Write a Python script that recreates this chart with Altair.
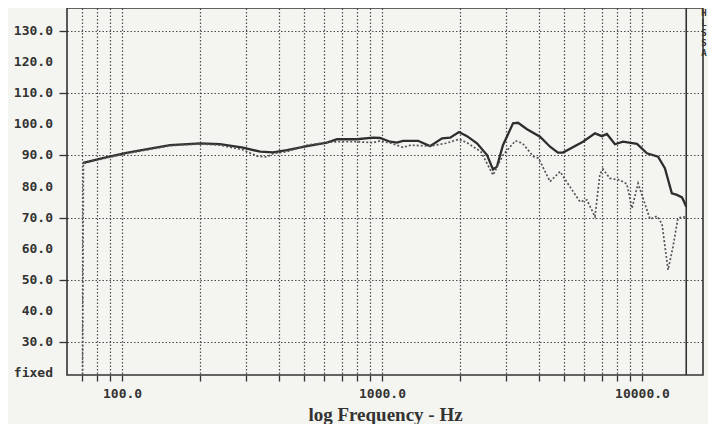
import altair as alt
import pandas as pd

# Solid trace
solid_freq = [70.8, 85, 104, 125, 153, 200, 238, 292, 340, 381, 431, 515, 614, 672, 801, 923, 983,
              1074, 1142, 1204, 1376, 1530, 1702, 1828, 1978, 2123, 2319, 2535, 2673, 2768, 2919,
              3191, 3336, 3613, 4054, 4430, 4752, 4968, 5930, 6595, 7015, 7330, 7870, 8450, 9570,
              10450, 11530, 12250, 13030, 13640, 14260, 14520, 14800]
solid_db = [87.6, 89.2, 90.8, 92.0, 93.3, 93.9, 93.6, 92.5, 91.2, 91.0, 91.7, 93.0, 94.1, 95.2, 95.2,
            95.7, 95.6, 94.4, 94.1, 94.7, 94.7, 93.0, 95.5, 95.7, 97.5, 96.2, 93.9, 90.1, 85.5, 86.4,
            93.3, 100.3, 100.5, 98.4, 96.0, 92.8, 90.9, 90.9, 94.4, 97.1, 96.2, 96.9, 93.6, 94.4,
            93.7, 90.7, 89.6, 85.9, 77.8, 77.3, 76.5, 75.1, 73.5]

# Dotted trace
dot_freq = [70.5, 71, 85, 104, 125, 153, 200, 238, 292, 330, 360, 381, 431, 515, 614, 672, 801, 923,
            983, 1074, 1204, 1290, 1530, 1760, 1978, 2123, 2400, 2673, 2919, 3260, 3470, 3830, 4000,
            4430, 4840, 5285, 5775, 6140, 6595, 6890, 7080, 7530, 8230, 8750, 9150, 9660, 10740,
            11420, 11940, 12600, 13160, 13750, 14380, 14800]
dot_db = [19.5, 87.4, 89.0, 90.6, 91.8, 93.1, 93.7, 93.3, 91.8, 89.8, 89.5, 90.6, 91.2, 93.3, 94.2,
          94.4, 94.4, 94.1, 94.7, 94.0, 92.6, 93.3, 93.0, 93.9, 95.2, 94.1, 91.2, 83.7, 90.1, 94.7,
          93.9, 89.6, 89.1, 81.6, 84.8, 79.9, 75.1, 75.7, 70.3, 84.0, 85.6, 82.6, 82.1, 80.8, 73.0,
          81.0, 69.5, 70.5, 68.0, 53.2, 60.6, 69.8, 70.3, 70.0]

x_grid = [70, 80, 90, 100, 200, 300, 400, 500, 600, 700, 800, 900, 1000,
          2000, 3000, 4000, 5000, 6000, 7000, 8000, 9000, 10000]
y_ticks = [30, 40, 50, 60, 70, 80, 90, 100, 110, 120, 130]
y_labels = ["30.0", "40.0", "50.0", "60.0", "70.0", "80.0", "90.0", "100.0", "110.0", "120.0", "130.0"]
fixed_label = ["fixed"]
fixed_level = [20]
marker_freq = [14800]
x_title = "log Frequency - Hz"

W, H = 636, 367
ink = "#333333"
mono = "DejaVu Sans Mono"

xscale = alt.Scale(type="log", domain=[61.4, 17170], nice=False)
yscale = alt.Scale(domain=[19.4, 137.4], nice=False, zero=False)

solid_df = pd.DataFrame({"f": solid_freq, "db": solid_db})
dot_df = pd.DataFrame({"f": dot_freq, "db": dot_db})
ylab_df = pd.DataFrame({"db": y_ticks + fixed_level, "t": y_labels + fixed_label})

xaxis = alt.Axis(
    values=x_grid, title=x_title, grid=True, gridColor="#3a3a3a", gridDash=[1.5, 2], gridWidth=1.2,
    gridOpacity=0.9, tickSize=6, tickColor=ink, tickWidth=1.3, domain=False,
    labelExpr="(datum.value == 100 || datum.value == 1000 || datum.value == 10000) ? format(datum.value, '.1f') : ''",
    labelOverlap=False, labelFont=mono, labelFontWeight="bold", labelFontSize=13, labelColor=ink,
    labelPadding=6, titleFont="Liberation Serif", titleFontWeight="bold", titleFontSize=19,
    titleColor=ink, titlePadding=5,
)
yaxis = alt.Axis(
    values=y_ticks, title=None, grid=True, gridColor="#3a3a3a", gridDash=[1.5, 2], gridWidth=1.2,
    gridOpacity=0.9, tickSize=8, tickColor=ink, tickWidth=1.3, domain=False, labels=False,
)

solid = alt.Chart(solid_df).mark_line(color="#2e2e2e", strokeWidth=2.3).encode(
    x=alt.X("f:Q", scale=xscale, axis=xaxis),
    y=alt.Y("db:Q", scale=yscale, axis=yaxis),
)
dotted = alt.Chart(dot_df).mark_line(color="#555", strokeWidth=1.7, strokeDash=[2, 2]).encode(
    x=alt.X("f:Q", scale=xscale),
    y=alt.Y("db:Q", scale=yscale),
)
marker = alt.Chart(pd.DataFrame({"f": marker_freq})).mark_rule(color="#333", strokeWidth=1.6).encode(
    x=alt.X("f:Q", scale=xscale),
)
ylabels = alt.Chart(ylab_df).mark_text(
    align="right", baseline="middle", font=mono, fontWeight="bold", fontSize=13, color=ink, clip=False
).encode(x=alt.value(-14), y=alt.Y("db:Q", scale=yscale), text="t:N")
corner = alt.Chart(pd.DataFrame({"t": ["H\nL\nS\nS\nA"]})).mark_text(
    align="center", baseline="top", font=mono, fontWeight="bold", fontSize=9, color=ink,
    lineBreak="\n", lineHeight=10, clip=False
).encode(x=alt.value(W + 1), y=alt.value(1), text="t:N")

chart = alt.layer(solid, dotted, marker, ylabels, corner).properties(
    width=W, height=H,
    autosize=alt.AutoSizeParams(type="none"),
    padding={"left": 59, "top": 0, "right": 5, "bottom": 49},
    background="#f4f5f0",
).configure_view(stroke="#333", strokeWidth=1.6)

chart.save("out.html", embed_options={"renderer": "svg", "actions": False})
